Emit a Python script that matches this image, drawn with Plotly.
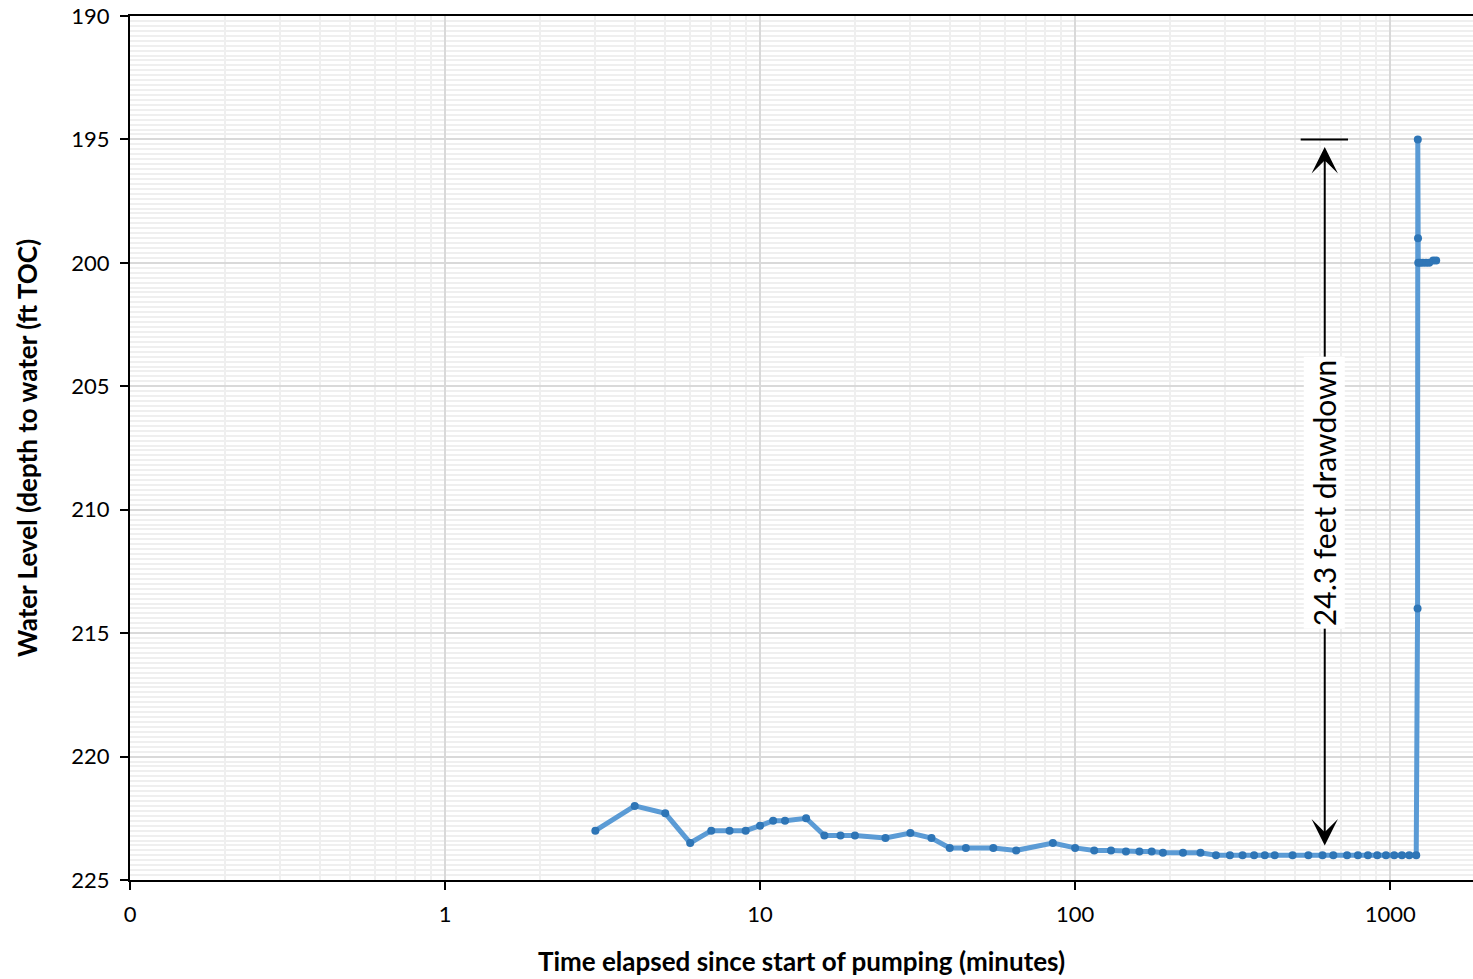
import math
import plotly.graph_objects as go

# Elapsed time since pumping began (minutes) and depth to water (ft below TOC)
minutes = [3, 4, 5, 6, 7, 8, 9, 10, 11, 12, 14, 16, 18, 20, 25, 30, 35, 40, 45,
           55, 65, 85, 100, 115, 130, 145, 160, 175, 190, 220, 250, 280, 310,
           340, 370, 400, 430, 490, 550, 610, 660, 730, 790, 850, 910, 970,
           1030, 1090, 1150, 1210,
           1222, 1224, 1226, 1228, 1245, 1270, 1300, 1330, 1370, 1400]
depth_ft = [223.0, 222.0, 222.3, 223.5, 223.0, 223.0, 223.0, 222.8, 222.6,
            222.6, 222.5, 223.2, 223.2, 223.2, 223.3, 223.1, 223.3, 223.7,
            223.7, 223.7, 223.8, 223.5, 223.7, 223.8, 223.8, 223.85, 223.85,
            223.85, 223.9, 223.9, 223.9, 224.0, 224.0, 224.0, 224.0, 224.0,
            224.0, 224.0, 224.0, 224.0, 224.0, 224.0, 224.0, 224.0, 224.0,
            224.0, 224.0, 224.0, 224.0, 224.0,
            214.0, 195.0, 199.0, 200.0, 200.0, 200.0, 200.0, 200.0, 199.9, 199.9]

# Axis ticks
x_tick_vals = [0.1, 1, 10, 100, 1000]
x_tick_text = ["0", "1", "10", "100", "1000"]
y_tick_vals = [190, 195, 200, 205, 210, 215, 220, 225]

# Drawdown callout
drawdown_label = "24.3 feet drawdown"
callout_minutes = 620
callout_top = 195.0          # level of the cap bar
callout_arrow_top = 195.25
callout_arrow_bottom = 223.6
callout_text_level = 209.3
cap_minutes = (520, 735)

FONT = "Lato"

fig = go.Figure()
fig.add_trace(go.Scatter(
    x=minutes, y=depth_ft, mode="lines+markers",
    line=dict(color="#5b9bd5", width=5),
    marker=dict(color="#2e75b6", size=8),
    showlegend=False, hoverinfo="x+y",
))

# cap bar at the top of the drawdown arrow
fig.add_shape(type="line", xref="x", yref="y",
              x0=cap_minutes[0], x1=cap_minutes[1], y0=callout_top, y1=callout_top,
              line=dict(color="black", width=2))

# double-headed arrow (log axis: annotation x values are log10)
lx = math.log10(callout_minutes)
fig.add_annotation(x=lx, y=callout_arrow_bottom, ax=lx, ay=callout_arrow_top,
                   xref="x", yref="y", axref="x", ayref="y",
                   showarrow=True, arrowhead=3, startarrowhead=3,
                   arrowside="end+start",
                   arrowsize=2.2, startarrowsize=2.2, arrowwidth=2,
                   arrowcolor="black", text="",
                   standoff=0, startstandoff=0)
fig.add_annotation(x=lx, y=callout_text_level, xref="x", yref="y",
                   text=drawdown_label, showarrow=False, textangle=-90,
                   bgcolor="white", borderpad=2,
                   font=dict(family=FONT, size=30, color="black"))

minor_x = [m * 10 ** e for e in range(-1, 4) for m in range(2, 10)]

fig.update_xaxes(
    type="log", range=[-1, 3.263],
    tickmode="array", tickvals=x_tick_vals, ticktext=x_tick_text,
    ticks="outside", ticklen=8, tickwidth=2, tickcolor="black",
    ticklabelstandoff=6,
    showline=True, linecolor="black", linewidth=2, mirror=True,
    showgrid=True, gridcolor="#d9d9d9", gridwidth=2,
    minor=dict(tickmode="array", tickvals=minor_x, showgrid=True,
               gridcolor="#efefef", gridwidth=2, ticks=""),
    tickfont=dict(family=FONT, size=22, color="black"),
    title=dict(text="<b>Time elapsed since start of pumping (minutes)</b>",
               font=dict(family=FONT, size=26, color="black"), standoff=26),
    zeroline=False,
)
fig.update_yaxes(
    range=[225, 190],
    tickmode="array", tickvals=y_tick_vals,
    ticks="outside", ticklen=8, tickwidth=2, tickcolor="black",
    ticklabelstandoff=6,
    showline=True, linecolor="black", linewidth=2,
    showgrid=True, gridcolor="#d9d9d9", gridwidth=2,
    minor=dict(dtick=0.2, tick0=190, showgrid=True,
               gridcolor="#efefef", gridwidth=2, ticks=""),
    tickfont=dict(family=FONT, size=22, color="black"),
    title=dict(text="<b>Water Level (depth to water (ft TOC)</b>",
               font=dict(family=FONT, size=26, color="black"), standoff=26),
    zeroline=False,
)

fig.update_layout(
    width=1473, height=979,
    margin=dict(l=130, r=0, t=16, b=99),
    plot_bgcolor="white", paper_bgcolor="white",
)

fig.write_html("out.html")
